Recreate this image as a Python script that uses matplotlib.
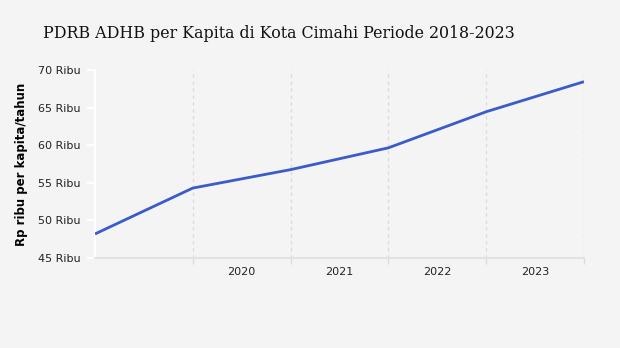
import matplotlib.pyplot as plt
import numpy as np

# data
years = [2018, 2019, 2020, 2021, 2022, 2023]
pdrb = [48.2, 54.3, 56.75, 59.65, 64.45, 68.45]
yticks = [45, 50, 55, 60, 65, 70]
xlabels = ["2020", "2021", "2022", "2023"]

bg = "#f4f4f4"
fig = plt.figure(figsize=(6.2, 3.48), dpi=100, facecolor=bg)
ax = fig.add_axes([95 / 620, 1 - 258 / 348, (584 - 95) / 620, (258 - 70) / 348])
ax.set_facecolor(bg)

x = np.arange(len(years))
ax.plot(x, pdrb, color="#3a5bc9", lw=2.0, solid_capstyle="butt", zorder=3)

ax.set_xlim(0, len(years) - 1)
ax.set_ylim(45, 70)

# vertical dashed gridlines at each year point except the first
for xi in x[1:]:
    ax.axvline(xi, color="#dcdcdc", lw=1, ls=(0, (2.5, 2.5)), zorder=1)

ax.set_yticks(yticks)
ax.set_yticklabels([f"{v} Ribu" for v in yticks], fontsize=8, color="#222222")
ax.tick_params(axis="y", length=6, width=1.5, color="white", pad=4.5)

ax.set_xticks(x[1:])
ax.set_xticklabels([])
ax.tick_params(axis="x", which="major", length=4, width=1, color="#dcdcdc")
ax.set_xticks(x[1:-1] + 0.5, minor=True)
ax.set_xticklabels(xlabels, minor=True, fontsize=8, color="#222222")
ax.tick_params(axis="x", which="minor", length=0, pad=6.5)

for s in ["top", "right"]:
    ax.spines[s].set_visible(False)
ax.spines["left"].set_color("white")
ax.spines["left"].set_linewidth(1.5)
ax.spines["bottom"].set_color("#e2e2e2")
ax.spines["bottom"].set_linewidth(1.5)

ax.set_ylabel("Rp ribu per kapita/tahun", fontsize=8.5, fontweight="bold", labelpad=7)

fig.text(43 / 620, 1 - 38 / 348, "PDRB ADHB per Kapita di Kota Cimahi Periode 2018-2023",
         fontsize=11.4, family="DejaVu Serif", color="#111111", va="baseline")

fig.savefig("out.png", dpi=100, facecolor=bg)
